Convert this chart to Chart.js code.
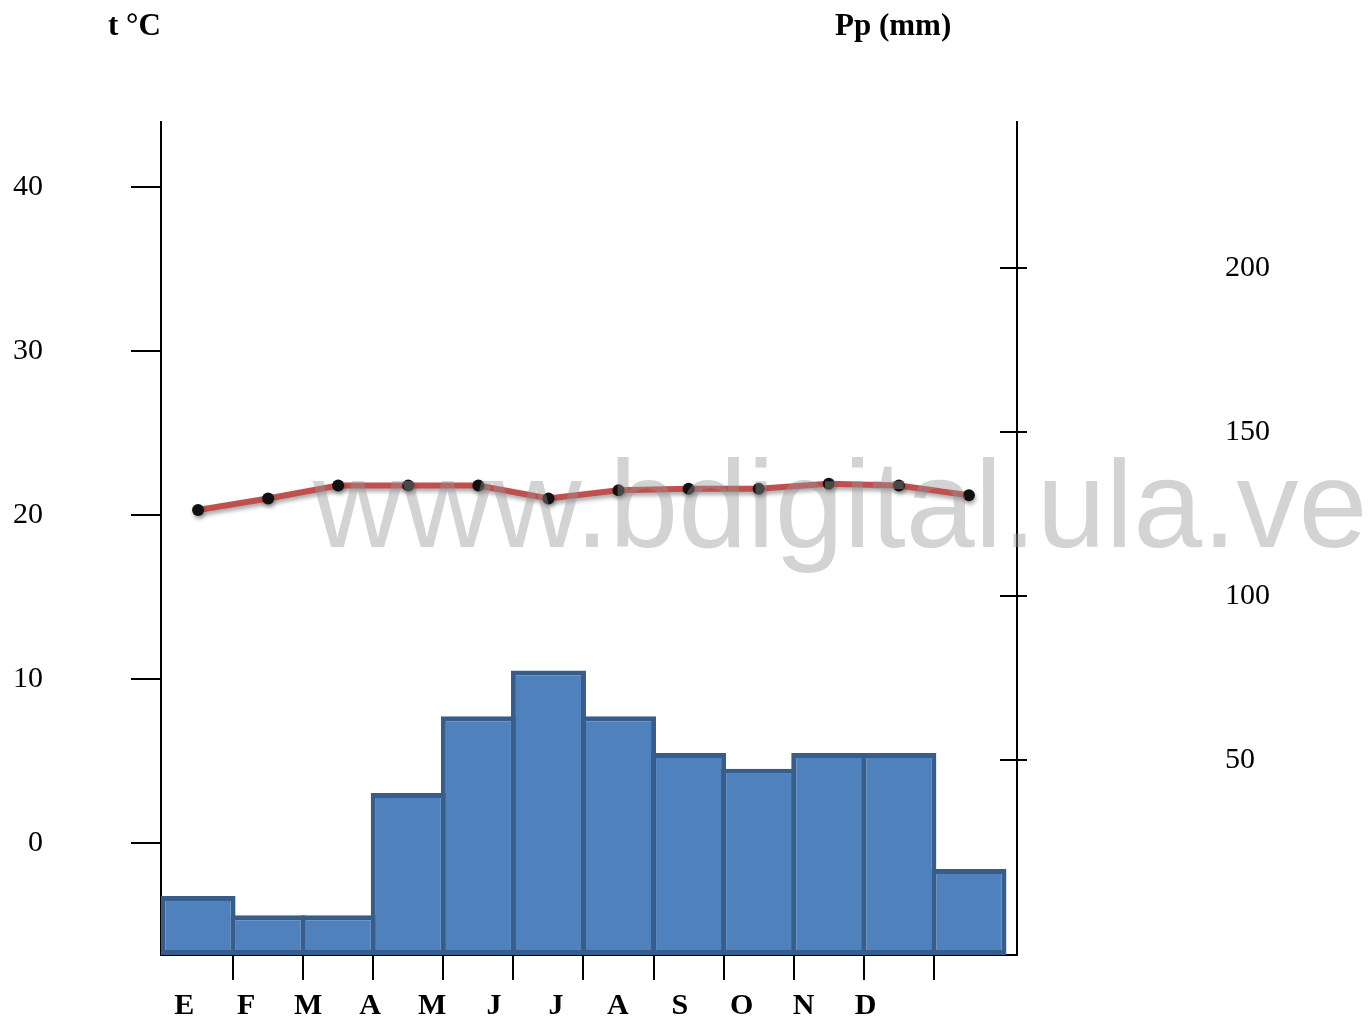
<!DOCTYPE html>
<html>
<head>
<meta charset="utf-8">
<script src="https://cdn.jsdelivr.net/npm/chart.js@4.4.1/dist/chart.umd.min.js"></script>
<style>
  html, body { margin: 0; padding: 0; background: #fff; }
  #wrap { position: relative; width: 1369px; height: 1021px; overflow: hidden; }
  #c { position: absolute; left: 0; top: 0; }
  .ttl { position: absolute; font-family: "Liberation Serif", "Times New Roman", serif; font-weight: bold; font-size: 31px; line-height: 31px; color: #000; white-space: nowrap; }
  #wm { position: absolute; left: 313px; top: 442px; font-family: "Liberation Sans", Arial, sans-serif; font-size: 124px; line-height: 124px; color: rgba(150,150,150,0.42); white-space: nowrap; pointer-events: none; }
</style>
</head>
<body>
<div id="wrap">
  <canvas id="c" width="1369" height="1021"></canvas>
  <div class="ttl" style="left:108px; top:9px;">t °C</div>
  <div class="ttl" style="left:835px; top:9px;">Pp (mm)</div>
  <div id="wm">www.bdigital.ula.ve</div>
</div>
<script>
// ---- data ----
const months = ['E', 'F', 'M', 'A', 'M', 'J', 'J', 'A', 'S', 'O', 'N', 'D'];
const precipitation = [8.5, 2.7, 2.7, 39.9, 63.3, 77.3, 63.3, 52.1, 47.3, 52.1, 52.1, 16.8]; // mm
const temperature = [20.3, 21.0, 21.8, 21.8, 21.8, 21.0, 21.5, 21.6, 21.6, 21.9, 21.8, 21.2]; // °C
const tempTicks = [0, 10, 20, 30, 40];
const precipTicks = [50, 100, 150, 200];

// ---- axis ranges (as drawn) ----
const TEMP_MIN = -6.83, TEMP_MAX = 43.96;
const PP_MIN = -9.45, PP_MAX = 244.5;
const X_MIN = -0.0285, X_MAX = 12.186;
const LBL_MIN = -0.376, LBL_MAX = 13.444;

const serif = '"Liberation Serif", "Times New Roman", serif';

const shadowPlugin = {
  id: 'lineShadow',
  beforeDatasetDraw(chart, args) {
    if (args.meta.type === 'line') {
      const ctx = chart.ctx;
      ctx.save();
      ctx.shadowColor = 'rgba(0,0,0,0.35)';
      ctx.shadowBlur = 4;
      ctx.shadowOffsetX = 1;
      ctx.shadowOffsetY = 3;
    }
  },
  afterDatasetDraw(chart, args) {
    if (args.meta.type === 'line') chart.ctx.restore();
  }
};

function fixV(width) {
  return s => { s.width = width; s.paddingTop = 0; s.paddingBottom = 0; };
}
function fixH(height) {
  return s => { s.height = height; s.paddingLeft = 0; s.paddingRight = 0; };
}
const precipTickBuilder = s => { s.ticks = precipTicks.map(v => ({ value: v })); };

new Chart(document.getElementById('c'), {
  type: 'bar',
  data: {
    datasets: [
      {
        type: 'line',
        label: 't °C',
        data: temperature.map((t, i) => ({ x: i + 0.5, y: t })),
        xAxisID: 'x',
        yAxisID: 'y',
        borderColor: '#C0504D',
        borderWidth: 6,
        tension: 0,
        pointRadius: 6,
        pointBackgroundColor: '#111',
        pointBorderColor: '#111',
        pointBorderWidth: 0,
        order: 0
      },
      {
        type: 'bar',
        label: 'Pp (mm)',
        data: precipitation.map((p, i) => ({ x: i + 0.5, y: p })),
        xAxisID: 'x',
        yAxisID: 'y2',
        base: PP_MIN,
        backgroundColor: '#4F81BD',
        borderColor: '#385D8A',
        borderWidth: 5,
        borderSkipped: false,
        categoryPercentage: 1,
        barPercentage: 1.0713,
        order: 1
      }
    ]
  },
  options: {
    responsive: false,
    devicePixelRatio: 1,
    animation: false,
    layout: { padding: { top: 122, left: 0, right: 0, bottom: 0 } },
    plugins: { legend: { display: false }, tooltip: { enabled: false }, title: { display: false } },
    scales: {
      x: {
        type: 'linear',
        position: 'bottom',
        min: X_MIN, max: X_MAX,
        offset: false,
        afterBuildTicks: s => { s.ticks = months.slice(1).map((m, i) => ({ value: i + 1 })); },
        afterFit: fixH(25),
        ticks: { display: false },
        grid: { offset: false, drawOnChartArea: false, drawTicks: true, tickLength: 25, color: '#000', lineWidth: 2 },
        border: { display: true, color: '#000', width: 2 }
      },
      x2: {
        type: 'linear',
        position: 'bottom',
        min: LBL_MIN, max: LBL_MAX,
        offset: false,
        afterBuildTicks: s => { s.ticks = months.map((m, i) => ({ value: i })); },
        afterFit: fixH(41),
        ticks: {
          display: true,
          padding: 8,
          maxRotation: 0,
          autoSkip: false,
          color: '#000',
          font: { family: serif, size: 30, weight: 'bold' },
          callback: (v, i) => months[i]
        },
        grid: { display: false, drawTicks: false, drawOnChartArea: false },
        border: { display: false }
      },
      y: {
        type: 'linear',
        position: 'left',
        min: TEMP_MIN, max: TEMP_MAX,
        afterBuildTicks: s => { s.ticks = tempTicks.map(v => ({ value: v })); },
        afterFit: fixV(161),
        ticks: {
          padding: 88,
          color: '#000',
          font: { family: serif, size: 30 },
          callback: v => String(v)
        },
        grid: { drawOnChartArea: false, drawTicks: true, tickLength: 30, color: '#000', lineWidth: 2 },
        border: { display: true, color: '#000', width: 2 }
      },
      y2: {
        type: 'linear',
        position: 'right',
        min: PP_MIN, max: PP_MAX,
        afterBuildTicks: precipTickBuilder,
        afterFit: fixV(352),
        ticks: {
          padding: 198,
          color: '#000',
          font: { family: serif, size: 30 },
          callback: v => String(v)
        },
        grid: { drawOnChartArea: false, drawTicks: true, tickLength: 10, color: '#000', lineWidth: 2 },
        border: { display: true, color: '#000', width: 2 }
      },
      y3: {
        // inner half of the crossing tick marks on the precipitation axis
        type: 'linear',
        position: { x: X_MAX },
        min: PP_MIN, max: PP_MAX,
        afterBuildTicks: precipTickBuilder,
        afterFit: fixV(0),
        ticks: { display: false },
        grid: { drawOnChartArea: false, drawTicks: true, tickLength: 17, color: '#000', lineWidth: 2 },
        border: { display: false }
      }
    }
  },
  plugins: [shadowPlugin]
});
</script>
</body>
</html>
